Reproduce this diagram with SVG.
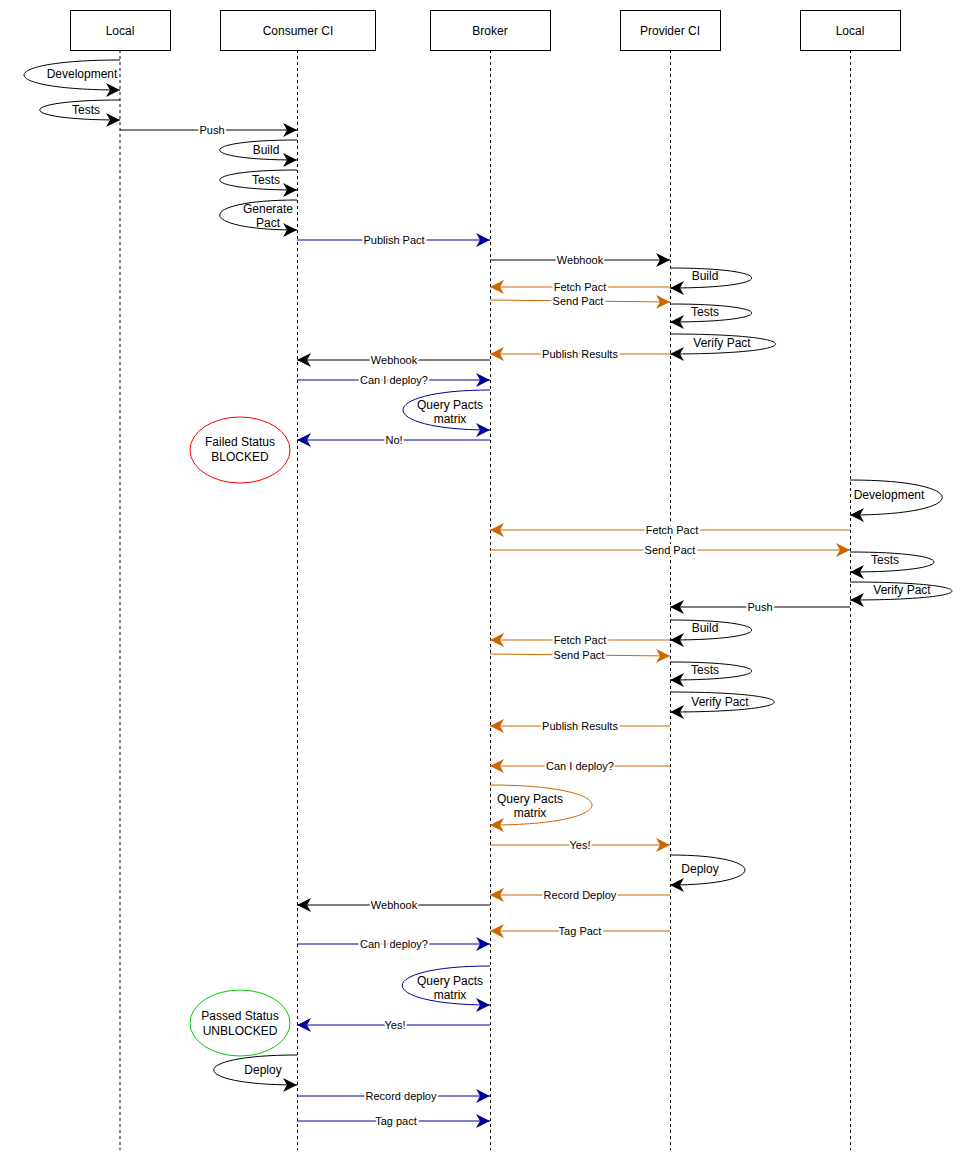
<svg xmlns="http://www.w3.org/2000/svg" width="971" height="1161" viewBox="0 0 971 1161">
<style>
text{font-family:"Liberation Sans",Arial,sans-serif;fill:#000;text-anchor:middle}
.h{font-size:12px}
.m{font-size:11px;paint-order:stroke;stroke:#fff;stroke-width:4px}
.l{font-size:12px}
.life{stroke:#000;stroke-dasharray:3 3;fill:none}
.k{stroke:#000;fill:none}
.o{stroke:#CC6600;fill:none}
.b{stroke:#000099;fill:none}
.k{marker-end:url(#ak)}.o{marker-end:url(#ao)}.b{marker-end:url(#ab)}
</style>
<defs>
<marker id="ak" markerUnits="userSpaceOnUse" markerWidth="16" markerHeight="14" refX="14" refY="7" orient="auto"><path d="M0,0 L14,7 L0,14 L4,7z" fill="#000"/></marker>
<marker id="ao" markerUnits="userSpaceOnUse" markerWidth="16" markerHeight="14" refX="14" refY="7" orient="auto"><path d="M0,0 L14,7 L0,14 L4,7z" fill="#CC6600"/></marker>
<marker id="ab" markerUnits="userSpaceOnUse" markerWidth="16" markerHeight="14" refX="14" refY="7" orient="auto"><path d="M0,0 L14,7 L0,14 L4,7z" fill="#000099"/></marker>
</defs>
<rect width="971" height="1161" fill="#fff"/>
<g id="local1"><rect x="70.5" y="10.5" width="100" height="40" fill="#fff" stroke="#000"/><text class="h" x="120" y="35">Local</text><line class="life" x1="120" y1="50" x2="120" y2="1150"/></g>
<g id="consumer"><rect x="220.5" y="10.5" width="155" height="40" fill="#fff" stroke="#000"/><text class="h" x="298" y="35">Consumer CI</text><line class="life" x1="297.5" y1="50" x2="297.5" y2="1150"/></g>
<g id="broker"><rect x="430.5" y="10.5" width="120" height="40" fill="#fff" stroke="#000"/><text class="h" x="490" y="35">Broker</text><line class="life" x1="490.5" y1="50" x2="490.5" y2="1150"/></g>
<g id="provider"><rect x="620.5" y="10.5" width="100" height="40" fill="#fff" stroke="#000"/><text class="h" x="670" y="35">Provider CI</text><line class="life" x1="670.5" y1="50" x2="670.5" y2="1150"/></g>
<g id="local2"><rect x="800.5" y="10.5" width="100" height="40" fill="#fff" stroke="#000"/><text class="h" x="850" y="35">Local</text><line class="life" x1="850.5" y1="50" x2="850.5" y2="1150"/></g>
<g id="failed"><ellipse cx="240" cy="450" rx="50" ry="33" fill="#fff" stroke="#FF0000"/><text class="l" x="240" y="446">Failed Status</text><text class="l" x="240" y="461">BLOCKED</text></g>
<g id="passed"><ellipse cx="240" cy="1023" rx="50" ry="33" fill="#fff" stroke="#00CC00"/><text class="l" x="240" y="1020">Passed Status</text><text class="l" x="240" y="1035">UNBLOCKED</text></g>
<g id="connectors">
<path class="k" d="M120,60 C-8,60 -8,90 120,90"/>
<path class="k" d="M120,100 C13,100 13,120 120,120"/>
<path class="k" d="M120,130 H297"/>
<path class="k" d="M297,140 C194,140 194,160 297,160"/>
<path class="k" d="M297,170 C194,170 194,190 297,190"/>
<path class="k" d="M297,200 C194,200 194,230 297,230"/>
<path class="b" d="M297,240 H490"/>
<path class="k" d="M490,260 H670"/>
<path class="k" d="M670,268 C779,268 779,288 670,288"/>
<path class="o" d="M670,287 H490"/>
<path class="o" d="M490,300 L670,302"/>
<path class="k" d="M670,304 C779,304 779,322 670,322"/>
<path class="k" d="M670,334 C811,334 811,354 670,354"/>
<path class="o" d="M670,354 H490"/>
<path class="k" d="M490,360 H297"/>
<path class="b" d="M297,380 H490"/>
<path class="b" d="M490,390 C374,390 374,430 490,430"/>
<path class="b" d="M490,440 H297"/>
<path class="k" d="M850,480 C973,480 973,515 850,515"/>
<path class="o" d="M850,530 H490"/>
<path class="o" d="M490,550 H850"/>
<path class="k" d="M850,552 C962,552 962,572 850,572"/>
<path class="k" d="M850,582 C986,582 986,600 850,600"/>
<path class="k" d="M850,607 H670"/>
<path class="k" d="M670,620 C779,620 779,640 670,640"/>
<path class="o" d="M670,640 H490"/>
<path class="o" d="M490,654 L670,656"/>
<path class="k" d="M670,662 C779,662 779,680 670,680"/>
<path class="k" d="M670,692 C809,692 809,712 670,712"/>
<path class="o" d="M670,726 H490"/>
<path class="o" d="M670,766 H490"/>
<path class="o" d="M490,785 C626,785 626,825 490,825"/>
<path class="o" d="M490,845 H670"/>
<path class="k" d="M670,855 C770,855 770,885 670,885"/>
<path class="o" d="M670,895 H490"/>
<path class="k" d="M490,905 H297"/>
<path class="o" d="M670,931 H490"/>
<path class="b" d="M297,944 H490"/>
<path class="b" d="M490,966 C373,966 373,1005 490,1005"/>
<path class="b" d="M490,1025 H297"/>
<path class="k" d="M297,1055 C186,1055 186,1085 297,1085"/>
<path class="b" d="M297,1096 H490"/>
<path class="b" d="M297,1121 H490"/>
</g>
<g id="labels">
<text class="l" x="82" y="78">Development</text>
<text class="l" x="86" y="114">Tests</text>
<text class="m" x="212" y="134">Push</text>
<text class="l" x="266" y="154">Build</text>
<text class="l" x="266" y="184">Tests</text>
<text class="l" x="268" y="213">Generate</text>
<text class="l" x="268" y="227">Pact</text>
<text class="m" x="394" y="244">Publish Pact</text>
<text class="m" x="580" y="264">Webhook</text>
<text class="l" x="705" y="280">Build</text>
<text class="m" x="580" y="291">Fetch Pact</text>
<text class="m" x="578" y="305">Send Pact</text>
<text class="l" x="705" y="316">Tests</text>
<text class="l" x="722" y="347">Verify Pact</text>
<text class="m" x="580" y="358">Publish Results</text>
<text class="m" x="394" y="364">Webhook</text>
<text class="m" x="394" y="384">Can I deploy?</text>
<text class="l" x="450" y="409">Query Pacts</text>
<text class="l" x="450" y="423">matrix</text>
<text class="m" x="394" y="444">No!</text>
<text class="l" x="889" y="499">Development</text>
<text class="m" x="672" y="534">Fetch Pact</text>
<text class="m" x="670" y="554">Send Pact</text>
<text class="l" x="885" y="564">Tests</text>
<text class="l" x="902" y="594">Verify Pact</text>
<text class="m" x="760" y="611">Push</text>
<text class="l" x="705" y="632">Build</text>
<text class="m" x="580" y="644">Fetch Pact</text>
<text class="m" x="579" y="659">Send Pact</text>
<text class="l" x="705" y="674">Tests</text>
<text class="l" x="720" y="706">Verify Pact</text>
<text class="m" x="580" y="730">Publish Results</text>
<text class="m" x="580" y="770">Can I deploy?</text>
<text class="l" x="530" y="803">Query Pacts</text>
<text class="l" x="530" y="817">matrix</text>
<text class="m" x="580" y="849">Yes!</text>
<text class="l" x="700" y="873">Deploy</text>
<text class="m" x="580" y="899">Record Deploy</text>
<text class="m" x="394" y="909">Webhook</text>
<text class="m" x="580" y="935">Tag Pact</text>
<text class="m" x="394" y="948">Can I deploy?</text>
<text class="l" x="450" y="985">Query Pacts</text>
<text class="l" x="450" y="999">matrix</text>
<text class="m" x="395" y="1029">Yes!</text>
<text class="l" x="263" y="1074">Deploy</text>
<text class="m" x="401" y="1100">Record deploy</text>
<text class="m" x="396" y="1125">Tag pact</text>
</g>
</svg>
